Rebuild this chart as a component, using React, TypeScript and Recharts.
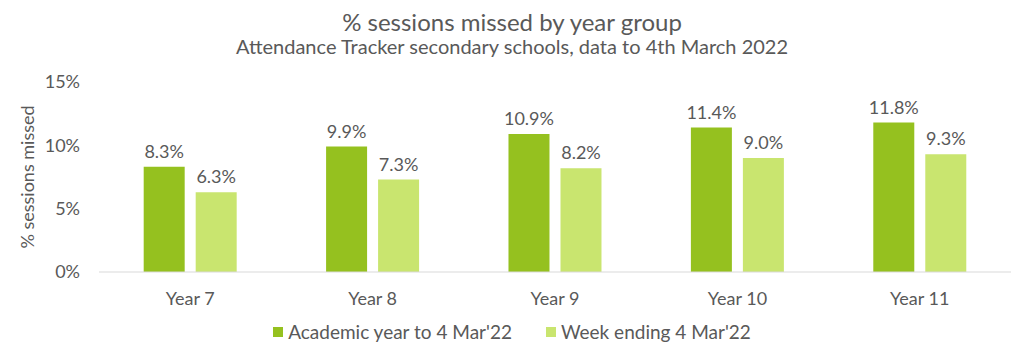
import { Bar, BarChart, LabelList, XAxis, YAxis } from "recharts";

const years = ["Year 7", "Year 8", "Year 9", "Year 10", "Year 11"];
const academicYear = [8.3, 9.9, 10.9, 11.4, 11.8];
const weekEnding = [6.3, 7.3, 8.2, 9.0, 9.3];
const yTicks = [0, 5, 10, 15];

const data = years.map((year, i) => ({
  year,
  academic: academicYear[i],
  week: weekEnding[i],
}));

const FONT = "Lato, 'Open Sans', sans-serif";
const TEXT = "#595959";
const DARK = "#95c11f";
const LIGHT = "#c9e56f";

function LegendContent() {
  const items = [
    { label: "Academic year to 4 Mar'22", color: DARK },
    { label: "Week ending 4 Mar'22", color: LIGHT },
  ];
  return (
    <div style={{ display: "flex", justifyContent: "center", gap: 34, fontFamily: FONT, fontSize: 19, color: TEXT }}>
      {items.map((it) => (
        <div key={it.label} style={{ display: "flex", alignItems: "center" }}>
          <span style={{ width: 10, height: 10, background: it.color, marginRight: 5, display: "inline-block" }} />
          {it.label}
        </div>
      ))}
    </div>
  );
}

export default function App() {
  return (
    <div style={{ position: "absolute", left: 0, top: 0, width: 1024, height: 357, background: "#fff", fontFamily: FONT }}>
      <div style={{ position: "absolute", top: 10, width: 1024, textAlign: "center", fontSize: 24, lineHeight: "24px", color: TEXT }}>
        % sessions missed by year group
      </div>
      <div style={{ position: "absolute", top: 36, width: 1024, textAlign: "center", fontSize: 20, lineHeight: "20px", color: TEXT }}>
        Attendance Tracker secondary schools, data to 4th March 2022
      </div>
      <div style={{ position: "absolute", top: 320, left: 0, width: 1024 }}>
        <LegendContent />
      </div>
      <BarChart
        width={1024}
        height={357}
        data={data}
        margin={{ top: 82, right: 13, bottom: 55, left: 0 }}
        barCategoryGap="24.5%"
        barGap={11}
      >
        <XAxis
          dataKey="year"
          axisLine={{ stroke: "#d9d9d9" }}
          tickLine={false}
          tick={{ fill: TEXT, fontSize: 18, fontFamily: FONT }}
          tickMargin={14}
        />
        <YAxis
          width={99}
          domain={[0, 15]}
          ticks={yTicks}
          tickFormatter={(v) => `${v}%`}
          axisLine={false}
          tickLine={false}
          tickSize={0}
          tickMargin={19}
          tick={{ fill: TEXT, fontSize: 18, fontFamily: FONT }}
          label={{
            value: "% sessions missed",
            angle: -90,
            position: "insideLeft",
            offset: 28,
            style: { textAnchor: "middle", fill: TEXT, fontSize: 18, fontFamily: FONT },
          }}
        />
        <Bar dataKey="academic" fill={DARK} isAnimationActive={false}>
          <LabelList
            dataKey="academic"
            position="top"
            offset={9}
            formatter={(v: number) => `${v.toFixed(1)}%`}
            style={{ fill: TEXT, fontSize: 18, fontFamily: FONT }}
          />
        </Bar>
        <Bar dataKey="week" fill={LIGHT} isAnimationActive={false}>
          <LabelList
            dataKey="week"
            position="top"
            offset={9}
            formatter={(v: number) => `${v.toFixed(1)}%`}
            style={{ fill: TEXT, fontSize: 18, fontFamily: FONT }}
          />
        </Bar>
      </BarChart>
    </div>
  );
}
